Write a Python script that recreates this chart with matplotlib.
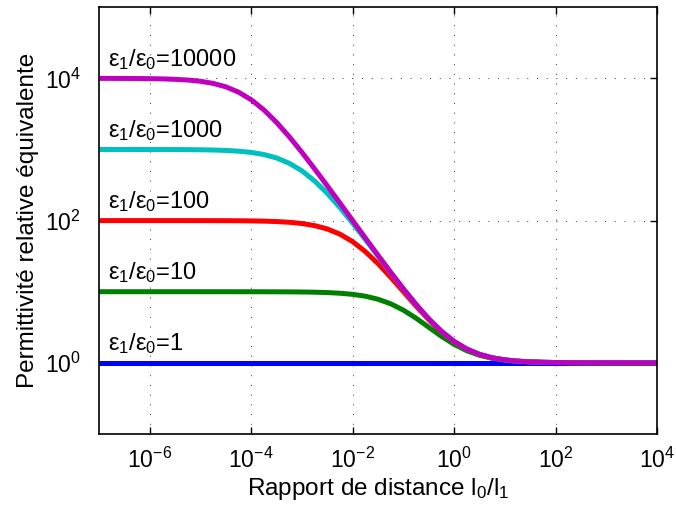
from matplotlib import pyplot as plt
from matplotlib.ticker import NullLocator, LogFormatterMathtext
import numpy as np

plt.rcParams["font.family"] = ["Liberation Sans", "DejaVu Sans"]
plt.rcParams["mathtext.fontset"] = "custom"
plt.rcParams["mathtext.rm"] = "Liberation Sans"
plt.rcParams["mathtext.it"] = "Liberation Sans"
plt.rcParams["mathtext.default"] = "regular"

# rapport l0/l1, quarter decades from 1e-7 to 1e4
ratio = [1e-7, 1.778e-7, 3.162e-7, 5.623e-7,
         1e-6, 1.778e-6, 3.162e-6, 5.623e-6,
         1e-5, 1.778e-5, 3.162e-5, 5.623e-5,
         1e-4, 1.778e-4, 3.162e-4, 5.623e-4,
         1e-3, 1.778e-3, 3.162e-3, 5.623e-3,
         1e-2, 1.778e-2, 3.162e-2, 5.623e-2,
         1e-1, 1.778e-1, 3.162e-1, 5.623e-1,
         1e0, 1.778e0, 3.162e0, 5.623e0,
         1e1, 1.778e1, 3.162e1, 5.623e1,
         1e2, 1.778e2, 3.162e2, 5.623e2,
         1e3, 1.778e3, 3.162e3, 5.623e3,
         1e4]

eps_1 = [1.0] * 45

eps_10 = [10.0, 10.0, 10.0, 10.0, 10.0, 10.0, 10.0, 10.0,
          9.999, 9.998, 9.997, 9.995, 9.991, 9.984, 9.972, 9.950,
          9.911, 9.843, 9.724, 9.521, 9.182, 8.641, 7.839, 6.762,
          5.5, 4.240, 3.163, 2.359, 1.818, 1.479, 1.276, 1.157,
          1.089, 1.050, 1.028, 1.016, 1.009, 1.005, 1.0028, 1.0016,
          1.0009, 1.0005, 1.0003, 1.0002, 1.0001]

eps_100 = [100.0, 100.0, 100.0, 100.0, 99.99, 99.98, 99.97, 99.94,
           99.90, 99.82, 99.69, 99.44, 99.02, 98.27, 96.97, 94.7,
           91.0, 85.06, 76.2, 64.4, 50.5, 36.6, 24.8, 15.95,
           10.0, 6.27, 4.035, 2.730, 1.980, 1.554, 1.312, 1.176,
           1.0989, 1.0556, 1.0313, 1.0176, 1.0099, 1.0056, 1.0032, 1.0018,
           1.0010, 1.0006, 1.0003, 1.0002, 1.0001]

eps_1000 = [1000.0, 999.8, 999.7, 999.4, 999.0, 998.0, 997.0, 994.0,
            990.0, 982.5, 969.4, 946.8, 909.0, 849.0, 760.0, 640.0,
            500.5, 360.6, 241.0, 151.8, 91.8, 54.2, 31.6, 18.46,
            10.89, 6.587, 4.150, 2.774, 1.998, 1.561, 1.316, 1.178,
            1.0999, 1.0562, 1.0316, 1.0178, 1.0100, 1.0056, 1.0032, 1.0018,
            1.0010, 1.0006, 1.0003, 1.0002, 1.0001]

eps_10000 = [9990.0, 9982.0, 9968.0, 9944.0, 9901.0, 9825.0, 9694.0, 9468.0,
             9091.0, 8490.0, 7600.0, 6400.0, 5000.0, 3600.0, 2400.0, 1510.0,
             910.0, 532.0, 308.0, 176.0, 100.0, 56.9, 32.5, 18.75,
             10.99, 6.62, 4.16, 2.778, 2.000, 1.562, 1.316, 1.178,
             1.100, 1.0562, 1.0316, 1.0178, 1.0100, 1.0056, 1.0032, 1.0018,
             1.0010, 1.0006, 1.0003, 1.0002, 1.0001]

series = [
    (eps_1, 1, "#0000ff", "1"),
    (eps_10, 10, "#008000", "10"),
    (eps_100, 100, "#ff0000", "100"),
    (eps_1000, 1000, "#00bfbf", "1000"),
    (eps_10000, 10000, "#bf00bf", "10000"),
]

fig = plt.figure(figsize=(6.76, 5.16), dpi=100)
ax = fig.add_axes([0.1465, 0.159, 0.8255, 0.827])

for values, k, color, txt in series:
    ax.plot(ratio, values, color=color, lw=3.6, solid_capstyle="butt")
    ax.text(1.5e-7, k * 1.5, "ε$_1$/ε$_0$=" + txt, fontsize=17,
            va="baseline", ha="left")

ax.set_xscale("log")
ax.set_yscale("log")
ax.set_xlim(1e-7, 1e4)
ax.set_ylim(1e-1, 1e5)
ax.set_xticks([1e-6, 1e-4, 1e-2, 1e0, 1e2, 1e4])
ax.set_yticks([1e0, 1e2, 1e4])
ax.xaxis.set_major_formatter(LogFormatterMathtext())
ax.yaxis.set_major_formatter(LogFormatterMathtext())
ax.xaxis.set_minor_locator(NullLocator())
ax.yaxis.set_minor_locator(NullLocator())
ax.tick_params(direction="in", length=5, width=1, top=True, right=True,
               labelsize=16.5)
ax.tick_params(axis="x", pad=10)
ax.tick_params(axis="y", pad=13)
ax.grid(True, color="#333333", ls=(0, (1, 9)), lw=0.7)
for s in ax.spines.values():
    s.set_linewidth(1.2)

ax.set_xlabel("Rapport de distance l$_0$/l$_1$", fontsize=17.5, labelpad=2)
ax.set_ylabel("Permittivité relative équivalente", fontsize=17.5, labelpad=4)

plt.savefig("out.png", dpi=100)
